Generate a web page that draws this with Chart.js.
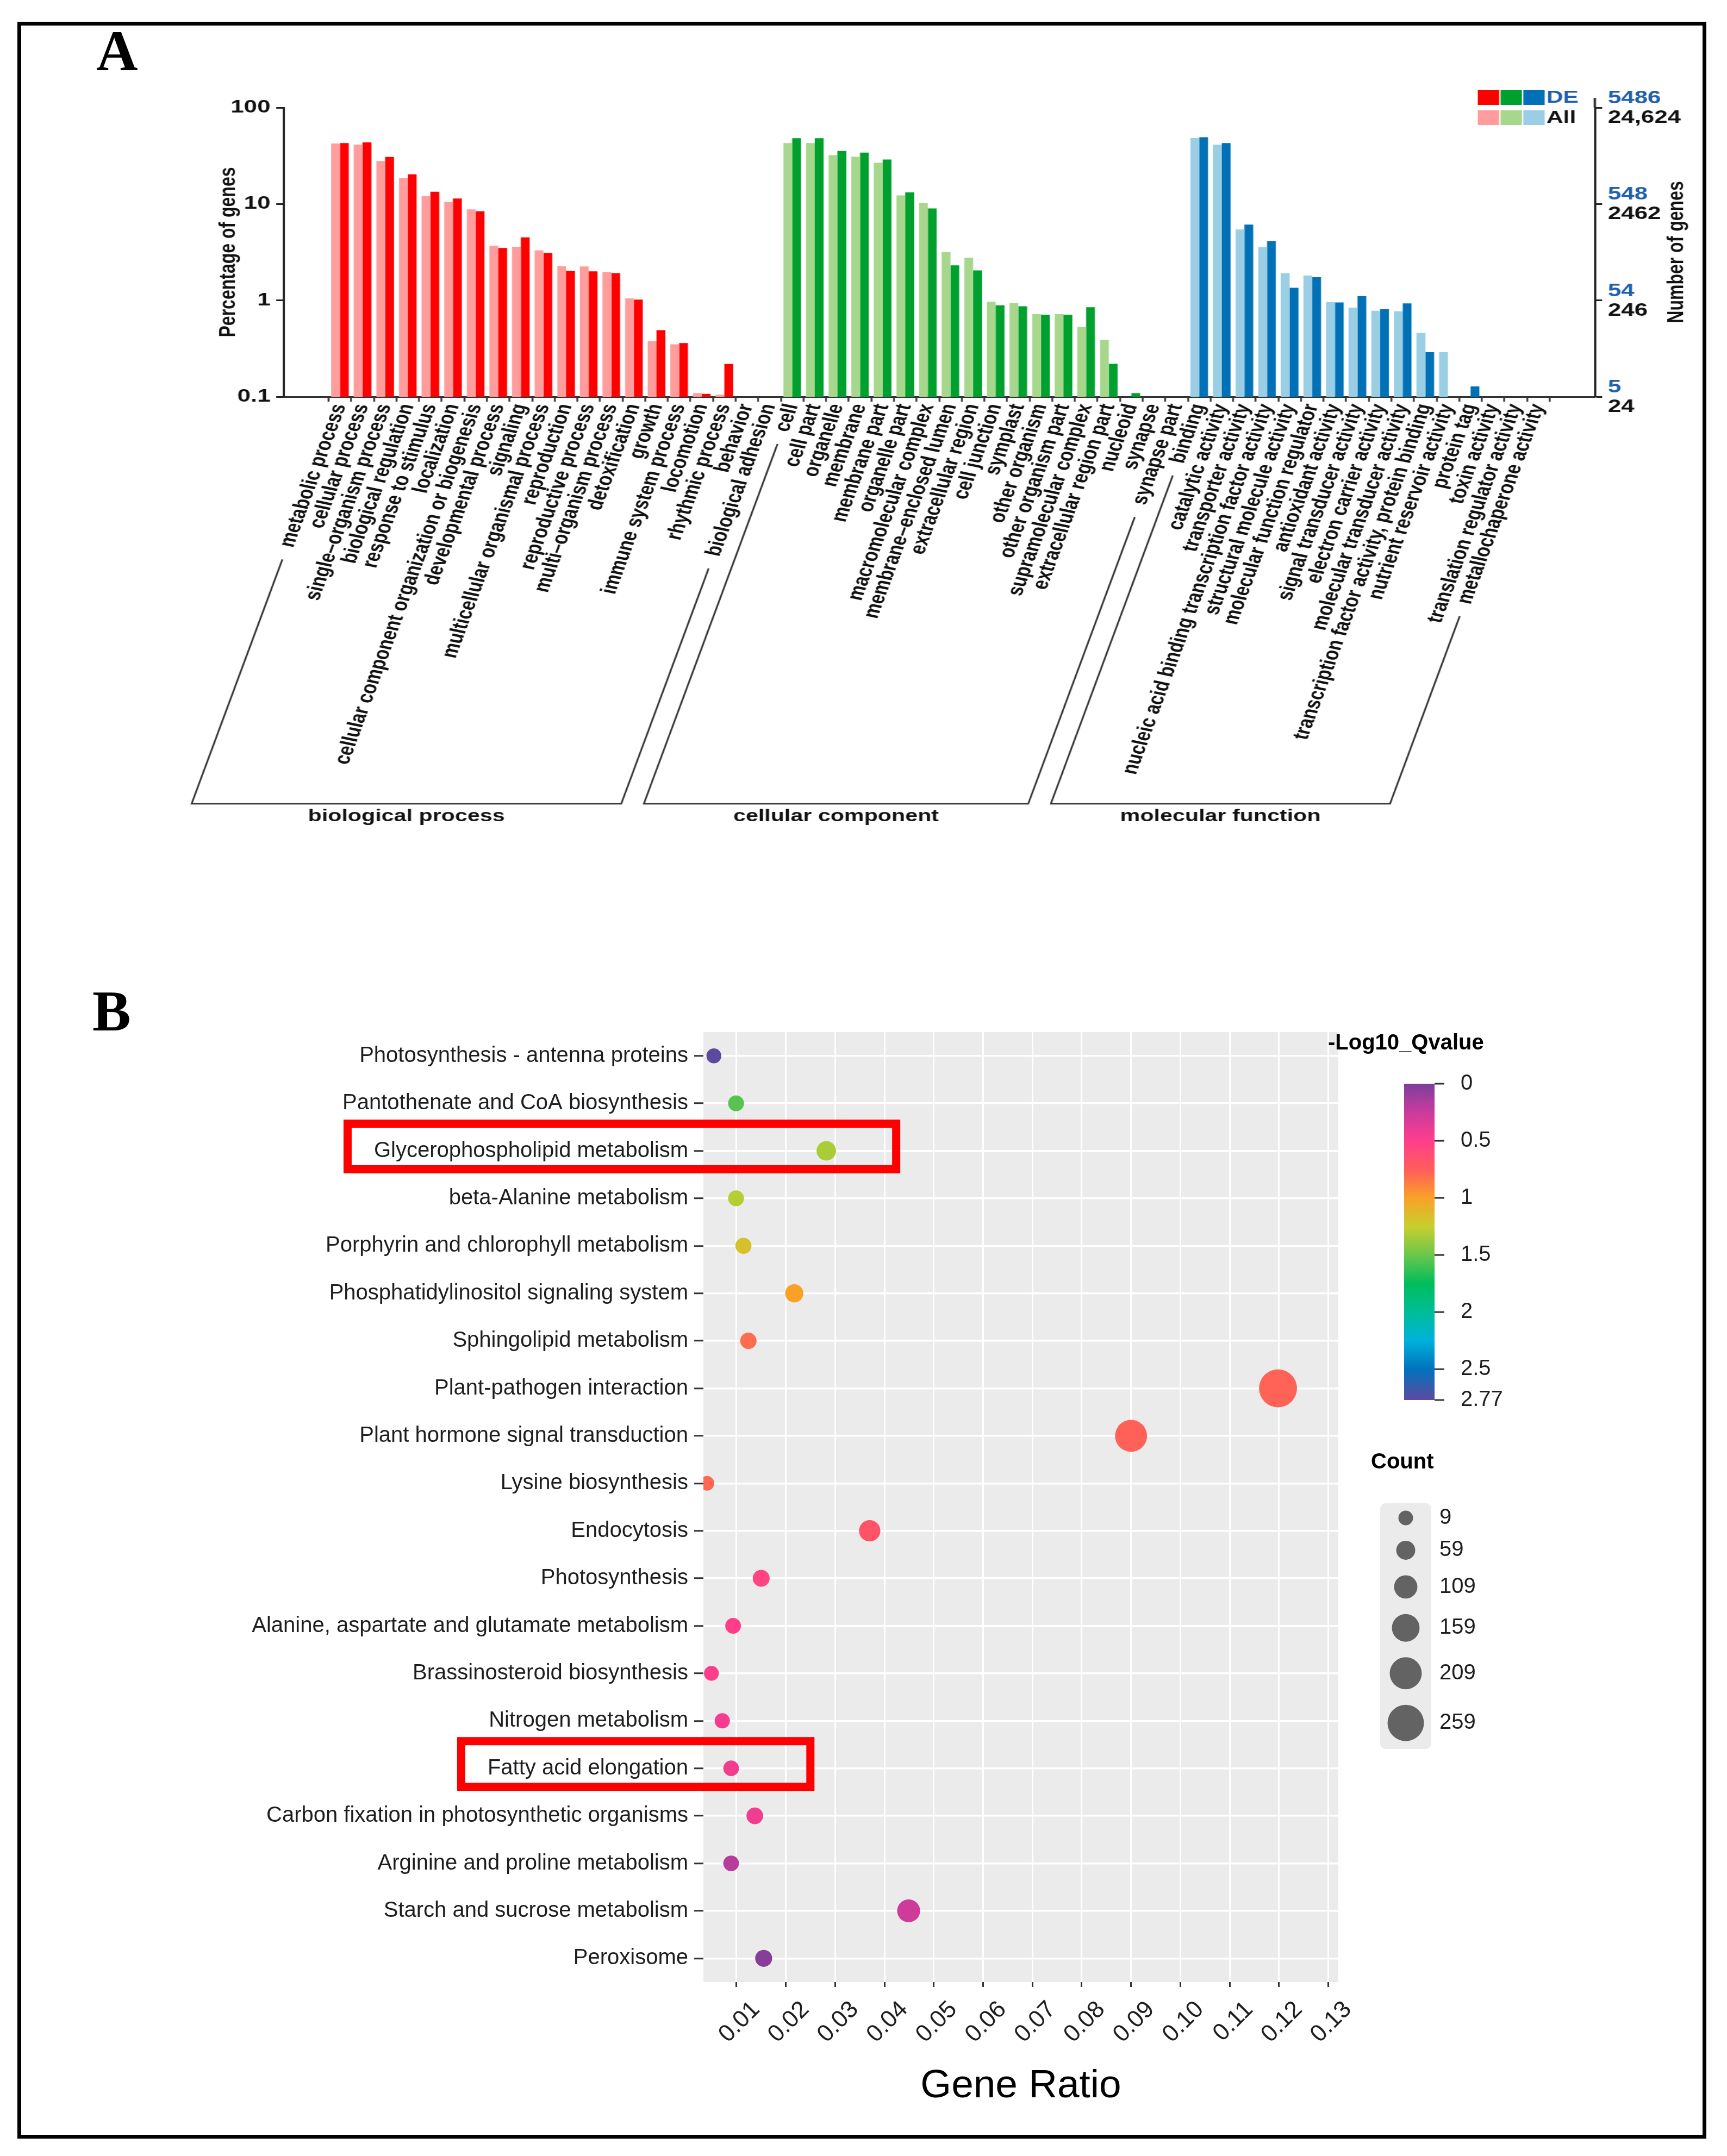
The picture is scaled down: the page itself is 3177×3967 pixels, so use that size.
<!DOCTYPE html>
<html>
<head>
<meta charset="utf-8">
<title>GO classification and KEGG enrichment</title>
<script src="https://cdn.jsdelivr.net/npm/chart.js@4.4.1/dist/chart.umd.min.js"></script>
<style>
  html, body { margin: 0; padding: 0; background: #fff; }
  body { position: relative; width: 3177px; height: 3967px; overflow: hidden; }
  #frame { position: absolute; left: 32px; top: 40px; width: 3107px; height: 3895px; border: 7px solid #000; box-sizing: border-box; }
  .tag { position: absolute; font-family: "Liberation Serif", "Times New Roman", serif; font-weight: bold; font-size: 106px; line-height: 1; color: #000; }
  /* panel A is horizontally stretched in the original figure */
  #goChart { position: absolute; left: 0; top: 0; width: 2389px; height: 1600px; transform: scaleX(1.33); transform-origin: 0 0; }
  #keggChart { position: absolute; left: 0; top: 1600px; width: 3177px; height: 2367px; }
</style>
</head>
<body>
<div id="frame"></div>
<canvas id="goChart" width="2389" height="1600"></canvas>
<canvas id="keggChart" width="3177" height="2367"></canvas>
<div class="tag" style="left:177px; top:41px;">A</div>
<div class="tag" style="left:170px; top:1808px;">B</div>
<script>
const FONT = '"Liberation Sans", Arial, sans-serif';

// ---------- Panel A : GO classification (percentage of genes) ----------
const bpLabels = ['metabolic process', 'cellular process', 'single–organism process', 'biological regulation',
  'response to stimulus', 'localization', 'cellular component organization or biogenesis', 'developmental process',
  'signaling', 'multicellular organismal process', 'reproduction', 'reproductive process', 'multi–organism process',
  'detoxification', 'growth', 'immune system process', 'locomotion', 'rhythmic process', 'behavior', 'biological adhesion'];
const ccLabels = ['cell', 'cell part', 'organelle', 'membrane', 'membrane part', 'organelle part', 'macromolecular complex',
  'membrane–enclosed lumen', 'extracellular region', 'cell junction', 'symplast', 'other organism', 'other organism part',
  'supramolecular complex', 'extracellular region part', 'nucleoid', 'synapse', 'synapse part'];
const mfLabels = ['binding', 'catalytic activity', 'transporter activity', 'nucleic acid binding transcription factor activity',
  'structural molecule activity', 'molecular function regulator', 'antioxidant activity', 'signal transducer activity',
  'electron carrier activity', 'molecular transducer activity', 'transcription factor activity, protein binding',
  'nutrient reservoir activity', 'protein tag', 'toxin activity', 'translation regulator activity', 'metallochaperone activity'];

const bpAll = [42.4, 41.3, 27.9, 18.5, 12.1, 10.5, 8.8, 3.7, 3.6, 3.3, 2.26, 2.25, 1.97, 1.05, 0.38, 0.35, 0.109, 0.105, null, null];
const bpDE  = [42.8, 43.6, 30.8, 20.3, 13.4, 11.4, 8.4, 3.5, 4.5, 3.1, 2.02, 2.0, 1.92, 1.02, 0.49, 0.36, 0.107, 0.219, null, null];
const ccAll = [42.8, 42.8, 32.1, 31.0, 26.8, 12.3, 10.3, 3.16, 2.77, 0.97, 0.94, 0.72, 0.72, 0.53, 0.39, null, null, null];
const ccDE  = [48.1, 48.1, 35.5, 34.1, 28.9, 13.2, 9.0, 2.31, 2.05, 0.89, 0.87, 0.71, 0.71, 0.85, 0.22, 0.109, null, null];
const mfAll = [48.3, 41.2, 5.43, 3.57, 1.91, 1.81, 0.96, 0.84, 0.78, 0.77, 0.46, 0.29, null, null, null, null];
const mfDE  = [49.3, 42.9, 6.11, 4.12, 1.35, 1.74, 0.95, 1.11, 0.81, 0.93, 0.29, null, 0.128, null, null, null];

const pctTicks = [100, 10, 1, 0.1];
const deTotals = ['5486', '548', '54', '5'];
const allTotals = ['24,624', '2462', '246', '24'];

// ---------- Panel B : KEGG enrichment ----------
const pathways = ['Photosynthesis - antenna proteins', 'Pantothenate and CoA biosynthesis', 'Glycerophospholipid metabolism',
  'beta-Alanine metabolism', 'Porphyrin and chlorophyll metabolism', 'Phosphatidylinositol signaling system',
  'Sphingolipid metabolism', 'Plant-pathogen interaction', 'Plant hormone signal transduction', 'Lysine biosynthesis',
  'Endocytosis', 'Photosynthesis', 'Alanine, aspartate and glutamate metabolism', 'Brassinosteroid biosynthesis',
  'Nitrogen metabolism', 'Fatty acid elongation', 'Carbon fixation in photosynthetic organisms',
  'Arginine and proline metabolism', 'Starch and sucrose metabolism', 'Peroxisome'];
const geneRatio = [0.0054, 0.0099, 0.0282, 0.0099, 0.0114, 0.0217, 0.0124, 0.1198, 0.0900, 0.0040,
  0.0370, 0.0150, 0.0093, 0.0049, 0.0071, 0.0089, 0.0137, 0.0089, 0.0449, 0.0155];
const geneCount = [12, 23, 65, 23, 26, 50, 29, 277, 208, 9, 86, 35, 21, 11, 16, 20, 32, 20, 104, 36];
const qValue = [2.77, 1.55, 1.33, 1.30, 1.17, 1.0, 0.81, 0.77, 0.76, 0.79, 0.68, 0.55, 0.50, 0.48, 0.45, 0.44, 0.43, 0.20, 0.28, 0.04];

const ratioTicks = [0.01, 0.02, 0.03, 0.04, 0.05, 0.06, 0.07, 0.08, 0.09, 0.10, 0.11, 0.12, 0.13];
const qTicks = [0, 0.5, 1, 1.5, 2, 2.5, 2.77];
const countBreaks = [9, 59, 109, 159, 209, 259];

// ---------- colours ----------
const darkColors = ['#ff0000', '#00a02e', '#0071b6'];
const lightColors = ['#ff9d9d', '#a6d78c', '#99cee4'];
const DE_BLUE = '#1f5fae';
const qStops = [[0, '#7b3f9b'], [0.25, '#c93b9d'], [0.5, '#ff3e8b'], [0.75, '#ff5d5a'], [1, '#f9a127'],
  [1.25, '#c8cf2e'], [1.5, '#6cc64b'], [1.75, '#00bd5c'], [2, '#00bd98'], [2.25, '#00b1dc'], [2.5, '#0072bd'], [2.77, '#5d4a9f']];

function rgb(h) { return [1, 3, 5].map(i => parseInt(h.slice(i, i + 2), 16)); }
function qColor(v) {
  for (let i = 1; i < qStops.length; i++) {
    const [v0, c0] = qStops[i - 1], [v1, c1] = qStops[i];
    if (v <= v1) {
      const t = (v - v0) / (v1 - v0), a = rgb(c0), b = rgb(c1);
      return `rgb(${a.map((c, k) => Math.round(c + (b[k] - c) * t)).join(',')})`;
    }
  }
  return qStops[qStops.length - 1][1];
}
const bubbleDiameter = c => 25.5 + 0.16 * c;

// ---------- Panel A chart ----------
const pad = ['', ''];
const goLabels = [...pad, ...bpLabels, ...ccLabels, ...mfLabels, ...pad];
const allData = [null, null, ...bpAll, ...ccAll, ...mfAll, null, null];
const deData = [null, null, ...bpDE, ...ccDE, ...mfDE, null, null];
const groupSizes = [bpLabels.length, ccLabels.length, mfLabels.length];
const colorsFor = set => [null, null, ...groupSizes.flatMap((n, g) => Array(n).fill(set[g])), null, null];

const LABEL_ROT = 74.4;
const LABEL_FONT = { family: FONT, size: 31, weight: 'bold' };
const groups = [
  { name: 'biological process', from: 2, to: 1 + bpLabels.length },
  { name: 'cellular component', from: 2 + bpLabels.length, to: 1 + bpLabels.length + ccLabels.length },
  { name: 'molecular function', from: 2 + bpLabels.length + ccLabels.length, to: 1 + bpLabels.length + ccLabels.length + mfLabels.length }
];

const goExtras = {
  id: 'goExtras',
  afterDraw(chart) {
    const { ctx, chartArea: area, scales } = chart;
    const xs = scales.x, y2 = scales.y2;
    ctx.save();
    ctx.strokeStyle = '#222';
    ctx.lineWidth = 3;
    ctx.beginPath(); ctx.moveTo(area.right, 180); ctx.lineTo(area.right, area.top); ctx.stroke();

    // right axis: DE and All gene numbers
    ctx.font = `bold 33px ${FONT}`;
    ctx.textAlign = 'left';
    ctx.textBaseline = 'middle';
    pctTicks.forEach((v, i) => {
      const py = y2.getPixelForValue(v);
      ctx.fillStyle = DE_BLUE; ctx.fillText(deTotals[i], area.right + 18, py - 17);
      ctx.fillStyle = '#111'; ctx.fillText(allTotals[i], area.right + 18, py + 19);
    });
    ctx.save();
    ctx.translate(2319, (area.top + area.bottom) / 2);
    ctx.rotate(-Math.PI / 2);
    ctx.textAlign = 'center';
    ctx.fillStyle = '#111';
    ctx.font = `bold 32px ${FONT}`;
    ctx.fillText('Number of genes', 0, 0);
    ctx.restore();

    // legend squares
    const sq = [2044, 2075.5, 2107];
    darkColors.forEach((c, i) => { ctx.fillStyle = c; ctx.fillRect(sq[i], 166, 29.5, 27); });
    lightColors.forEach((c, i) => { ctx.fillStyle = c; ctx.fillRect(sq[i], 203, 29.5, 27); });
    ctx.font = `bold 32px ${FONT}`;
    ctx.fillStyle = DE_BLUE; ctx.fillText('DE', 2139, 180);
    ctx.fillStyle = '#111'; ctx.fillText('All', 2139, 217);

    // group brackets parallel to the rotated labels
    const th = LABEL_ROT * Math.PI / 180;
    const ux = -Math.cos(th), uy = Math.sin(th);
    const y0 = xs.top + 9 + (LABEL_FONT.size * 1.2 / 2) * Math.cos(th);
    const yH = 1479;
    ctx.font = `bold ${LABEL_FONT.size}px ${FONT}`;
    const edge = idx => {
      const px = xs.getPixelForValue(idx);
      const t0 = ctx.measureText(goLabels[idx]).width + 24;
      const t1 = (yH - y0) / uy;
      return { top: [px + ux * t0, y0 + uy * t0], bot: [px + ux * t1, yH] };
    };
    groups.forEach(g => {
      const l = edge(g.from), r = edge(g.to);
      ctx.strokeStyle = '#333';
      ctx.lineWidth = 2.5;
      ctx.beginPath();
      ctx.moveTo(...l.top); ctx.lineTo(...l.bot); ctx.lineTo(...r.bot); ctx.lineTo(...r.top);
      ctx.stroke();
      g.mid = (l.bot[0] + r.bot[0]) / 2;
    });
    ctx.font = `bold 31px ${FONT}`;
    ctx.fillStyle = '#111';
    ctx.textAlign = 'center';
    groups.forEach(g => ctx.fillText(g.name, g.mid, 1502));
    ctx.restore();
  }
};

new Chart(document.getElementById('goChart'), {
  type: 'bar',
  data: {
    labels: goLabels,
    datasets: [
      { label: 'All', data: allData, backgroundColor: colorsFor(lightColors), categoryPercentage: 0.78, barPercentage: 1 },
      { label: 'DE', data: deData, backgroundColor: colorsFor(darkColors), categoryPercentage: 0.78, barPercentage: 1 }
    ]
  },
  options: {
    responsive: false,
    animation: false,
    events: [],
    layout: { padding: { top: 198, right: 0, bottom: 0, left: 0 } },
    plugins: { legend: { display: false }, tooltip: { enabled: false } },
    scales: {
      x: {
        type: 'category',
        offset: true,
        afterFit: s => { s.height = 870; },
        grid: {
          offset: true, drawOnChartArea: false, tickLength: 9, tickWidth: 2.5,
          tickColor: c => (c.index >= 2 && c.index <= goLabels.length - 2) ? '#333' : 'rgba(0,0,0,0)'
        },
        border: { display: true, color: '#333', width: 3 },
        ticks: { autoSkip: false, minRotation: LABEL_ROT, maxRotation: LABEL_ROT, padding: 0, color: '#111', font: LABEL_FONT }
      },
      y: {
        type: 'logarithmic',
        position: 'left',
        min: 0.1,
        max: 100,
        afterBuildTicks: s => { s.ticks = pctTicks.map(v => ({ value: v })); },
        afterFit: s => { s.width = 392; },
        grid: { drawOnChartArea: false, tickLength: 10, tickWidth: 3, tickColor: '#222' },
        border: { display: true, color: '#222', width: 3 },
        ticks: { padding: 8, color: '#111', font: { family: FONT, size: 33, weight: 'bold' }, callback: v => String(v) },
        title: { display: true, text: 'Percentage of genes', color: '#111', font: { family: FONT, size: 32, weight: 'bold' }, padding: { top: 297, bottom: 0 } }
      },
      y2: {
        type: 'logarithmic',
        position: 'right',
        min: 0.1,
        max: 100,
        afterBuildTicks: s => { s.ticks = pctTicks.map(v => ({ value: v })); },
        afterFit: s => { s.width = 183; },
        grid: { drawOnChartArea: false, tickLength: 10, tickWidth: 3, tickColor: '#222' },
        border: { display: true, color: '#222', width: 3 },
        ticks: { display: false }
      }
    }
  },
  plugins: [goExtras]
});

// ---------- Panel B chart ----------
const highlightBoxes = [
  { label: 'Glycerophospholipid metabolism', to: 0.0432 },
  { label: 'Fatty acid elongation', to: 0.0258 }
];

const keggExtras = {
  id: 'keggExtras',
  beforeDraw(chart) {
    const { ctx, chartArea: a } = chart;
    ctx.save();
    ctx.fillStyle = '#ebebeb';
    ctx.fillRect(a.left, a.top, a.right - a.left, a.bottom - a.top);
    ctx.restore();
  },
  afterDraw(chart) {
    const { ctx, scales: { x, y } } = chart;
    ctx.save();

    // red highlight boxes
    ctx.font = `40px ${FONT}`;
    ctx.strokeStyle = '#ff0000';
    ctx.lineWidth = 15;
    highlightBoxes.forEach(b => {
      const cy = y.getPixelForValue(pathways.indexOf(b.label)) - 8;
      const textLeft = y.right - 17 - 11 - ctx.measureText(b.label).width;
      const left = textLeft - 56 + 7.5;
      const right = x.getPixelForValue(b.to) - 7.5;
      ctx.strokeRect(left, cy - 42, right - left, 84);
    });

    // colour bar legend
    const barL = 2583, barR = 2639, barT = 394, barB = 976;
    const maxQ = qTicks[qTicks.length - 1];
    ctx.textAlign = 'left';
    ctx.textBaseline = 'middle';
    ctx.fillStyle = '#000';
    ctx.font = `bold 40px ${FONT}`;
    ctx.fillText('-Log10_Qvalue', 2443, 320);
    const grad = ctx.createLinearGradient(0, barT, 0, barB);
    qStops.forEach(([v, c]) => grad.addColorStop(v / maxQ, c));
    ctx.fillStyle = grad;
    ctx.fillRect(barL, barT, barR - barL, barB - barT);
    ctx.font = `40px ${FONT}`;
    ctx.strokeStyle = '#333';
    ctx.lineWidth = 3;
    qTicks.forEach(v => {
      const py = barT + (v / maxQ) * (barB - barT);
      ctx.beginPath(); ctx.moveTo(barR, py); ctx.lineTo(barR + 18, py); ctx.stroke();
      ctx.fillStyle = '#1e1e1e';
      ctx.fillText(String(v), 2687, py);
    });

    // size legend
    ctx.font = `bold 40px ${FONT}`;
    ctx.fillStyle = '#000';
    ctx.fillText('Count', 2522, 1091);
    ctx.fillStyle = '#ebebeb';
    ctx.beginPath(); ctx.roundRect(2539, 1166, 94, 452, 10); ctx.fill();
    ctx.font = `40px ${FONT}`;
    let cy = 1193, prevD = 0;
    countBreaks.forEach((c, i) => {
      const d = bubbleDiameter(c);
      if (i > 0) cy += (prevD + d) / 2 + 28.5;
      prevD = d;
      ctx.fillStyle = '#636363';
      ctx.beginPath(); ctx.arc(2586, cy, d / 2, 0, Math.PI * 2); ctx.fill();
      ctx.fillStyle = '#1e1e1e';
      ctx.fillText(String(c), 2648, cy);
    });
    ctx.restore();
  }
};

new Chart(document.getElementById('keggChart'), {
  type: 'bubble',
  data: {
    datasets: [{
      data: pathways.map((p, i) => ({ x: geneRatio[i], y: p, r: bubbleDiameter(geneCount[i]) / 2 })),
      backgroundColor: qValue.map(qColor),
      borderWidth: 0
    }]
  },
  options: {
    responsive: false,
    animation: false,
    events: [],
    layout: { padding: { top: 299, right: 715, bottom: 0, left: 0 } },
    plugins: { legend: { display: false }, tooltip: { enabled: false } },
    scales: {
      x: {
        type: 'linear',
        min: 0.00328,
        max: 0.13203,
        afterBuildTicks: s => { s.ticks = ratioTicks.map(v => ({ value: v })); },
        afterFit: s => { s.height = 320; },
        grid: { color: '#ffffff', lineWidth: 3, tickColor: '#333', tickLength: 9, tickWidth: 3 },
        border: { display: false },
        ticks: { color: '#1e1e1e', font: { family: FONT, size: 44 }, minRotation: 45, maxRotation: 45, padding: 16, labelOffset: 36, callback: v => v.toFixed(2) },
        title: { display: true, text: 'Gene Ratio', color: '#000', font: { family: FONT, size: 73 }, padding: { top: 0, bottom: 84 } }
      },
      y: {
        type: 'category',
        labels: pathways,
        offset: true,
        afterFit: s => { s.width = 1294; },
        grid: { color: '#ffffff', lineWidth: 3.5, tickColor: '#333', tickLength: 17, tickWidth: 3, offset: false },
        border: { display: false },
        ticks: { color: '#1e1e1e', font: { family: FONT, size: 40 }, padding: 11, autoSkip: false }
      }
    }
  },
  plugins: [keggExtras]
});
</script>
</body>
</html>
